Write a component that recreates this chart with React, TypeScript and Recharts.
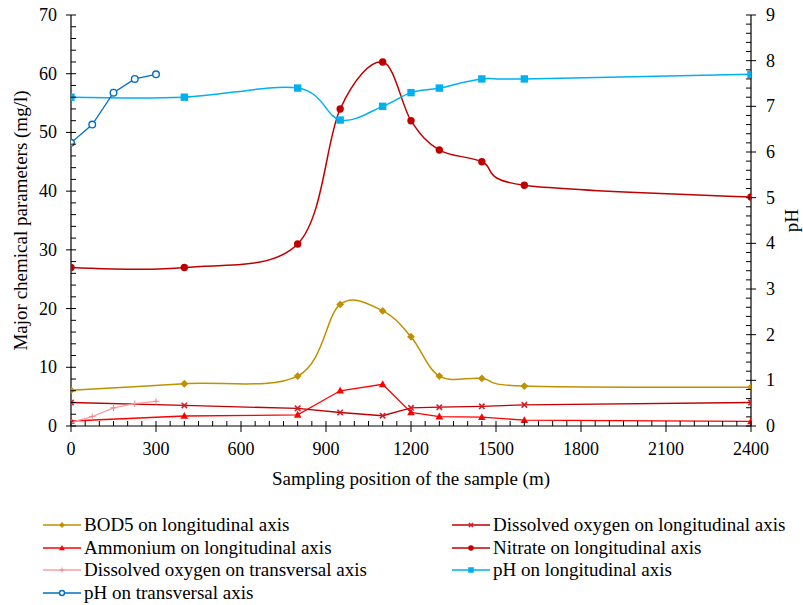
import React from 'react';
import { LineChart, Line, XAxis, YAxis, Label } from 'recharts';

// ---------- data ----------
const longitudinalPositions = [0, 400, 800, 950, 1100, 1200, 1300, 1450, 1600, 2400];
const transversalPositions = [0, 75, 150, 225, 300];

const bod5Longitudinal = [6.1, 7.2, 8.5, 20.7, 19.6, 15.2, 8.5, 8.1, 6.8, 6.6];
const dissolvedOxygenLongitudinal = [4.0, 3.5, 3.0, 2.3, 1.75, 3.1, 3.2, 3.35, 3.6, 4.0];
const ammoniumLongitudinal = [0.85, 1.7, 1.9, 6.0, 7.1, 2.3, 1.6, 1.5, 1.0, 0.8];
const nitrateLongitudinal = [27, 27, 31, 54, 62, 52, 47, 45, 41, 39];
const dissolvedOxygenTransversal = [0.6, 1.6, 3.1, 3.8, 4.2];
const phLongitudinal = [7.2, 7.2, 7.4, 6.7, 7.0, 7.3, 7.4, 7.6, 7.6, 7.7];
const phTransversal = [6.2, 6.6, 7.3, 7.6, 7.7];

const xMajorTicks = [0, 300, 600, 900, 1200, 1500, 1800, 2100, 2400];
const leftMajorTicks = [0, 10, 20, 30, 40, 50, 60, 70];
const rightMajorTicks = [0, 1, 2, 3, 4, 5, 6, 7, 8, 9];
const xMinorDivisions = 6;
const leftMinorDivisions = 5;
const rightMinorDivisions = 5;

const xAxisTitle = 'Sampling position of the sample (m)';
const leftAxisTitle = 'Major chemical parameters (mg/l)';
const rightAxisTitle = 'pH';

// ---------- helpers ----------
const FONT = '"Liberation Serif", "Times New Roman", serif';
const TICK_FONT = 18;
const TITLE_FONT = 19;

const withMinor = (majors: number[], div: number) => {
  const out: number[] = [];
  for (let i = 0; i < majors.length - 1; i++) {
    const a = majors[i];
    const step = (majors[i + 1] - a) / div;
    for (let j = 0; j < div; j++) out.push(Math.round((a + j * step) * 1000) / 1000);
  }
  out.push(majors[majors.length - 1]);
  return out;
};

const isMajor = (majors: number[], v: number) => majors.some((m) => Math.abs(m - v) < 1e-6);

const rows = (xs: number[], ys: number[]) => xs.map((x, i) => ({ x, y: ys[i] }));

// Excel-like smoothed line (uniform Catmull-Rom / cardinal tension 0)
function excelSmooth(context: any) {
  const k = 1 / 6;
  let x0 = NaN, y0 = NaN, x1 = NaN, y1 = NaN, x2 = NaN, y2 = NaN, pt = 0;
  const seg = (x: number, y: number) => {
    context.bezierCurveTo(
      x1 + k * (x2 - x0),
      y1 + k * (y2 - y0),
      x2 + k * (x1 - x),
      y2 + k * (y1 - y),
      x2,
      y2
    );
  };
  return {
    areaStart() {},
    areaEnd() {},
    lineStart() {
      x0 = x1 = x2 = y0 = y1 = y2 = NaN;
      pt = 0;
    },
    lineEnd() {
      if (pt === 2) context.lineTo(x2, y2);
      else if (pt === 3) seg(x1, y1);
    },
    point(x: number, y: number) {
      x = +x;
      y = +y;
      switch (pt) {
        case 0:
          pt = 1;
          context.moveTo(x, y);
          break;
        case 1:
          pt = 2;
          x1 = x;
          y1 = y;
          break;
        case 2:
          pt = 3;
          seg(x, y);
          break;
        default:
          seg(x, y);
          break;
      }
      x0 = x1; x1 = x2; x2 = x;
      y0 = y1; y1 = y2; y2 = y;
    },
  };
}

type MarkerKind = 'diamond' | 'x' | 'triangle' | 'circle' | 'plus' | 'square' | 'ocircle';

function Marker({ kind, color, cx, cy, s = 1 }: { kind: MarkerKind; color: string; cx: number; cy: number; s?: number }) {
  if (cx == null || cy == null || isNaN(cx) || isNaN(cy)) return null;
  switch (kind) {
    case 'diamond': {
      const r = 3.9 * s;
      return <polygon points={`${cx},${cy - r} ${cx + r},${cy} ${cx},${cy + r} ${cx - r},${cy}`} fill={color} />;
    }
    case 'triangle': {
      const h = 3.8 * s;
      return <polygon points={`${cx},${cy - h * 1.05} ${cx + h},${cy + h * 0.75} ${cx - h},${cy + h * 0.75}`} fill={color} />;
    }
    case 'x': {
      const r = 2.7 * s;
      return (
        <g stroke={color} strokeWidth={1.6}>
          <line x1={cx - r} y1={cy - r} x2={cx + r} y2={cy + r} />
          <line x1={cx - r} y1={cy + r} x2={cx + r} y2={cy - r} />
        </g>
      );
    }
    case 'circle':
      return <circle cx={cx} cy={cy} r={3.7 * s} fill={color} />;
    case 'plus': {
      const r = 3.2 * s;
      return (
        <g stroke={color} strokeWidth={1.1}>
          <line x1={cx - r} y1={cy} x2={cx + r} y2={cy} />
          <line x1={cx} y1={cy - r} x2={cx} y2={cy + r} />
        </g>
      );
    }
    case 'square': {
      const r = 3.7 * s;
      return <rect x={cx - r} y={cy - r} width={2 * r} height={2 * r} fill={color} />;
    }
    case 'ocircle':
      return <circle cx={cx} cy={cy} r={3.3 * s} fill="#fff" stroke={color} strokeWidth={1.4} />;
  }
  return null;
}

type Series = {
  name: string;
  data: { x: number; y: number }[];
  axis: 'left' | 'right';
  color: string;
  markerColor: string;
  marker: MarkerKind;
  smooth: boolean;
  width: number;
};

const series: Series[] = [
  { name: 'BOD5 on longitudinal axis', data: rows(longitudinalPositions, bod5Longitudinal), axis: 'left', color: '#BF9000', markerColor: '#BF9000', marker: 'diamond', smooth: true, width: 1.5 },
  { name: 'Dissolved oxygen on longitudinal axis', data: rows(longitudinalPositions, dissolvedOxygenLongitudinal), axis: 'left', color: '#C00000', markerColor: '#D0202E', marker: 'x', smooth: false, width: 1.3 },
  { name: 'Ammonium on longitudinal axis', data: rows(longitudinalPositions, ammoniumLongitudinal), axis: 'left', color: '#FF0000', markerColor: '#FF0000', marker: 'triangle', smooth: false, width: 1.3 },
  { name: 'Nitrate on longitudinal axis', data: rows(longitudinalPositions, nitrateLongitudinal), axis: 'left', color: '#C00000', markerColor: '#C00000', marker: 'circle', smooth: true, width: 1.5 },
  { name: 'Dissolved oxygen on transversal axis', data: rows(transversalPositions, dissolvedOxygenTransversal), axis: 'left', color: '#F4A0A8', markerColor: '#F08A96', marker: 'plus', smooth: false, width: 1.3 },
  { name: 'pH on longitudinal axis', data: rows(longitudinalPositions, phLongitudinal), axis: 'right', color: '#00B0F0', markerColor: '#00B0F0', marker: 'square', smooth: true, width: 1.5 },
  { name: 'pH on transversal axis', data: rows(transversalPositions, phTransversal), axis: 'right', color: '#0070C0', markerColor: '#0070C0', marker: 'ocircle', smooth: false, width: 1.3 },
];

// ---------- ticks ----------
const XTick = (props: any) => {
  const { x, y, payload } = props;
  const v = payload.value;
  const major = isMajor(xMajorTicks, v);
  return (
    <g>
      <line x1={x} x2={x} y1={y - 5} y2={major ? y + 6 : y} stroke="#000" strokeWidth={1} />
      {major && (
        <text x={x} y={y + 23} textAnchor="middle" dominantBaseline="central" fontSize={TICK_FONT} fontFamily={FONT} fill="#000">
          {v}
        </text>
      )}
    </g>
  );
};

const LeftTick = (props: any) => {
  const { x, y, payload } = props;
  const v = payload.value;
  const major = isMajor(leftMajorTicks, v);
  return (
    <g>
      <line x1={major ? x - 5 : x} x2={x + 5} y1={y} y2={y} stroke="#000" strokeWidth={1} />
      {major && (
        <text x={x - 14} y={y} textAnchor="end" dominantBaseline="central" fontSize={TICK_FONT} fontFamily={FONT} fill="#000">
          {v}
        </text>
      )}
    </g>
  );
};

const RightTick = (props: any) => {
  const { x, y, payload } = props;
  const v = payload.value;
  const major = isMajor(rightMajorTicks, v);
  return (
    <g>
      <line x1={x - 5} x2={major ? x + 5 : x} y1={y} y2={y} stroke="#000" strokeWidth={1} />
      {major && (
        <text x={x + 15} y={y} textAnchor="start" dominantBaseline="central" fontSize={TICK_FONT} fontFamily={FONT} fill="#000">
          {Math.round(v)}
        </text>
      )}
    </g>
  );
};

// ---------- legend ----------
const LegendIcon = ({ s }: { s: Series }) => (
  <svg width={38} height={14} style={{ display: 'block' }}>
    <line x1={0} x2={38} y1={7} y2={7} stroke={s.color} strokeWidth={1.6} />
    <Marker kind={s.marker} color={s.markerColor} cx={19} cy={7} s={0.75} />
  </svg>
);

const legendColumns = [43, 452];
const legendTop = 525;
const legendRowGap = 22.5;

const ChartLegend = () => (
  <div style={{ position: 'absolute', left: 0, top: 0, width: 803, height: 605, pointerEvents: 'none' }}>
    {series.map((s, i) => {
      const col = i % 2;
      const row = Math.floor(i / 2);
      const cy = legendTop + row * legendRowGap;
      return (
        <div
          key={s.name}
          style={{
            position: 'absolute',
            left: legendColumns[col],
            top: cy - 12,
            height: 24,
            display: 'flex',
            alignItems: 'center',
            whiteSpace: 'nowrap',
            fontFamily: FONT,
            fontSize: TITLE_FONT,
            color: '#000',
            lineHeight: '24px',
          }}
        >
          <LegendIcon s={s} />
          <span style={{ marginLeft: 3 }}>{s.name}</span>
        </div>
      );
    })}
  </div>
);

export default function App() {
  return (
    <div style={{ position: 'absolute', left: 0, top: 0, width: 803, height: 605, background: '#fff', fontFamily: FONT }}>
      <LineChart width={803} height={605} margin={{ top: 15, right: 0, left: 0, bottom: 0 }}>
        <XAxis
          type="number"
          dataKey="x"
          domain={[0, 2400]}
          ticks={withMinor(xMajorTicks, xMinorDivisions)}
          interval={0}
          tickLine={false}
          tickSize={0}
          tickMargin={0}
          tick={<XTick />}
          axisLine={{ stroke: '#000', strokeWidth: 1.2 }}
          height={179}
          allowDataOverflow
        >
          <Label
            content={(p: any) => {
              const vb = p.viewBox || { x: 71, y: 426, width: 680 };
              return (
                <text x={vb.x + vb.width / 2} y={vb.y + 52} textAnchor="middle" dominantBaseline="central" fontSize={TITLE_FONT} fontFamily={FONT} fill="#000">
                  {xAxisTitle}
                </text>
              );
            }}
          />
        </XAxis>
        <YAxis
          yAxisId="left"
          orientation="left"
          type="number"
          domain={[0, 70]}
          ticks={withMinor(leftMajorTicks, leftMinorDivisions)}
          interval={0}
          tickLine={false}
          tickSize={0}
          tickMargin={0}
          tick={<LeftTick />}
          axisLine={{ stroke: '#000', strokeWidth: 1.2 }}
          width={71}
          allowDataOverflow
        >
          <Label
            content={(p: any) => {
              const vb = p.viewBox || { x: 0, y: 15, width: 71, height: 411 };
              const cx = vb.x + 20;
              const cy = vb.y + vb.height / 2;
              return (
                <text x={cx} y={cy} transform={`rotate(-90 ${cx} ${cy})`} textAnchor="middle" dominantBaseline="central" fontSize={TITLE_FONT} fontFamily={FONT} fill="#000">
                  {leftAxisTitle}
                </text>
              );
            }}
          />
        </YAxis>
        <YAxis
          yAxisId="right"
          orientation="right"
          type="number"
          domain={[0, 9]}
          ticks={withMinor(rightMajorTicks, rightMinorDivisions)}
          interval={0}
          tickLine={false}
          tickSize={0}
          tickMargin={0}
          tick={<RightTick />}
          axisLine={{ stroke: '#000', strokeWidth: 1.2 }}
          width={52}
          allowDataOverflow
        >
          <Label
            content={(p: any) => {
              const vb = p.viewBox || { x: 751, y: 15, width: 52, height: 411 };
              const cx = vb.x + 40;
              const cy = vb.y + vb.height / 2;
              return (
                <text x={cx} y={cy} transform={`rotate(-90 ${cx} ${cy})`} textAnchor="middle" dominantBaseline="central" fontSize={TITLE_FONT} fontFamily={FONT} fill="#000">
                  {rightAxisTitle}
                </text>
              );
            }}
          />
        </YAxis>
        {series.map((s) => (
          <Line
            key={s.name}
            name={s.name}
            data={s.data}
            dataKey="y"
            yAxisId={s.axis}
            type={(s.smooth ? excelSmooth : 'linear') as any}
            stroke={s.color}
            strokeWidth={s.width}
            isAnimationActive={false}
            activeDot={false}
            dot={(p: any) => <Marker key={`${s.name}-${p.index}`} kind={s.marker} color={s.markerColor} cx={p.cx} cy={p.cy} />}
          />
        ))}
      </LineChart>
      <ChartLegend />
    </div>
  );
}
